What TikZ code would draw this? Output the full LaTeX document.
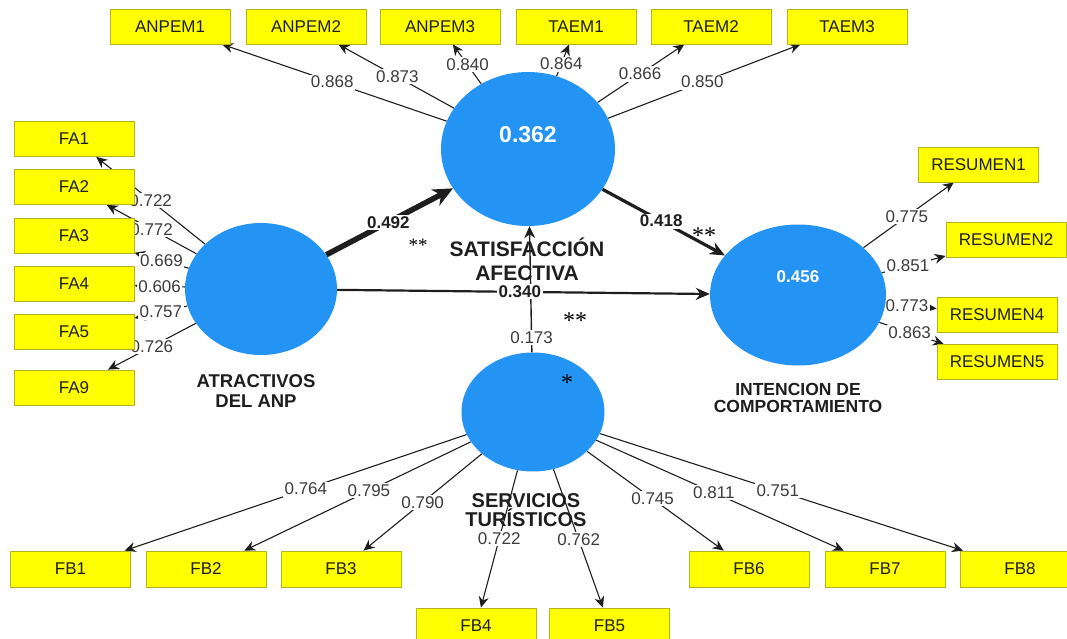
\documentclass[tikz,border=0pt]{standalone}
\usepackage{fontspec}
\setmainfont{Liberation Sans}
\newfontfamily\starfont{Liberation Serif}
\usetikzlibrary{arrows.meta,positioning,shapes.geometric,backgrounds}
\definecolor{ink}{HTML}{1E1E1E}
\definecolor{muted}{HTML}{3C3C3C}
\definecolor{lvblue}{HTML}{2494F4}
\definecolor{ybox}{HTML}{FFFF00}
\definecolor{yline}{HTML}{B4B41E}
\tikzset{
  ind/.style={draw=yline,line width=.8pt,fill=ybox,minimum width=120pt,minimum height=35pt,inner sep=0pt,font=\fontsize{17}{17}\selectfont,text=ink},
  lv/.style={ellipse,fill=lvblue,inner sep=0pt},
  lvval/.style={text=white,inner sep=0pt},
  lvname/.style={align=center,text=ink,inner sep=0pt},
  ld/.style={fill=white,inner sep=1.5pt,font=\fontsize{17}{17}\selectfont,text=muted},
  pc/.style={ld,font=\fontsize{17}{17}\selectfont\bfseries,text=ink},
  ar/.style={-{Stealth[length=11pt,width=10pt]},draw=ink,line width=1.1pt},
  sig/.style={font=\starfont\fontsize{24}{24}\selectfont,text=black,inner sep=0pt},
}

\begin{document}
\begin{tikzpicture}[x=1pt,y=-1pt]
  \useasboundingbox (0,0) rectangle (1067,639);
  % latent variables
  \node[lv,minimum width=174pt,minimum height=154pt] (sat) at (528,149) {};
  \node[lv,minimum width=152pt,minimum height=132pt] (atr) at (261,289) {};
  \node[lv,minimum width=176pt,minimum height=141pt] (int) at (798,295) {};
  \node[lv,minimum width=143pt,minimum height=119pt] (svc) at (533,412) {};
  \node[lvval,font=\fontsize{23}{23}\selectfont\bfseries] at ([yshift=14pt]sat.center) {0.362};
  \node[lvval,font=\fontsize{17}{17}\selectfont\bfseries] at ([yshift=18pt]int.center) {0.456};
  \node[lvname,font=\fontsize{21}{24}\selectfont\bfseries] at (527,259) {SATISFACCIÓN\\AFECTIVA};
  \node[lvname,font=\fontsize{18.5}{19.5}\selectfont\bfseries] at (256,391) {ATRACTIVOS\\DEL ANP};
  \node[lvname,font=\fontsize{17.5}{17.5}\selectfont\bfseries] at (798,398) {INTENCION DE\\COMPORTAMIENTO};
  \node[lvname,font=\fontsize{20}{19}\selectfont\bfseries] at (526,510) {SERVICIOS\\TURÍSTICOS};
  % indicators
  \foreach \name/\x in {ANPEM1/170,ANPEM2/306,ANPEM3/440,TAEM1/576,TAEM2/711,TAEM3/847}
    \node[ind] (\name) at (\x,26.5) {\name};
  \foreach \name/\y in {FA1/139,FA2/187,FA3/235.5,FA4/284,FA5/332,FA9/387.5}
    \node[ind] (\name) at (74,\y) {\name};
  \node[ind] (RESUMEN1) at (978.5,164.5) {RESUMEN1};
  \node[ind] (RESUMEN2) at (1006,240) {RESUMEN2};
  \node[ind] (RESUMEN4) at (997,314.5) {RESUMEN4};
  \node[ind] (RESUMEN5) at (997,362) {RESUMEN5};
  \foreach \name/\x in {FB1/70.5,FB2/206,FB3/341,FB6/749,FB7/885,FB8/1020}
    \node[ind,minimum height=36pt] (\name) at (\x,569) {\name};
  \foreach \name/\x in {FB4/476,FB5/609.5}
    \node[ind,minimum height=36pt] (\name) at (\x,626) {\name};
  % loadings
  \begin{scope}[on background layer]
    \foreach \name/\val/\p in {ANPEM1/0.868/.51,ANPEM2/0.873/.49,ANPEM3/0.840/.48,TAEM1/0.864/.38,TAEM2/0.866/.49,TAEM3/0.850/.49}
      \draw[ar] (sat) -- node[ld,pos=\p] {\val} (\name);
    \foreach \name/\val/\p in {FA1/0.722/.5,FA2/0.772/.5,FA3/0.669/.5,FA4/0.606/.5,FA5/0.757/.5,FA9/0.726/.5}
      \draw[ar] (atr) -- node[ld,pos=\p] {\val} (\name);
    \foreach \name/\val/\p in {RESUMEN1/0.775/.48,RESUMEN2/0.851/.41,RESUMEN4/0.773/.42,RESUMEN5/0.863/.47}
      \draw[ar] (int) -- node[ld,pos=\p] {\val} (\name);
    \foreach \name/\val/\p in {FB1/0.764/.47,FB2/0.795/.45,FB3/0.790/.5,FB4/0.722/.5,FB5/0.762/.51,FB6/0.745/.48,FB7/0.811/.475,FB8/0.751/.49}
      \draw[ar] (svc) -- node[ld,pos=\p] {\val} (\name);
    % paths
    \draw[ar,line width=1.4pt,-{Stealth[length=12pt,width=11pt]}] (svc) -- node[ld,pos=.115] {0.173} (sat);
    \draw[ar,line width=5.5pt,-{Stealth[length=20pt,width=18pt]}] (atr) -- node[pc,pos=.49] {0.492} (sat);
    \draw[ar,line width=3.2pt,-{Stealth[length=15pt,width=13pt]}] (sat) -- node[pc,pos=.48] {0.418} (int);
    \draw[ar,line width=2.2pt,-{Stealth[length=14pt,width=12pt]}] (atr) -- node[pc,pos=.49] {0.340} (int);
  \end{scope}
  % significance
  \node[sig,font=\starfont\fontsize{19}{19}\selectfont] (s1) at (418,245) {**};
  \node[sig] (s2) at (704,236) {**};
  \node[sig] (s3) at (575,321) {**};
  \node[sig] (s4) at (567,383) {*};
\end{tikzpicture}
\end{document}
